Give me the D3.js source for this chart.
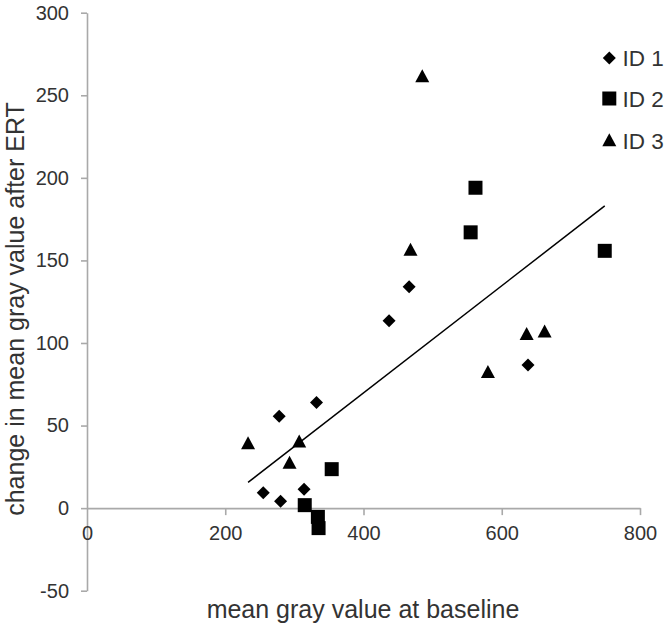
<!DOCTYPE html>
<html>
<head>
<meta charset="utf-8">
<script src="https://cdn.jsdelivr.net/npm/d3@7"></script>
<style>
  html, body { margin: 0; padding: 0; background: #fff; }
  svg { display: block; font-family: "Liberation Sans", Arial, sans-serif; }
</style>
</head>
<body>
<svg id="chart" width="671" height="626"></svg>
<script>
// ---- data ----
const id1X = [255, 280, 278, 332, 314, 437, 466, 638];
const id1Y = [9.3, 4.2, 55.7, 64, 11.5, 113.4, 134, 86.6];

const id2X = [315, 334, 335, 354, 555, 562, 749];
const id2Y = [1.8, -5.3, -12.1, 23.6, 167, 194, 155.8];

const id3X = [233, 307, 293, 485, 468, 580, 636, 662];
const id3Y = [38.8, 39.8, 27, 261, 156, 82, 105, 106.4];

const trendX = [233, 749];
const trendY = [15.6, 183];

const xTicks = [0, 200, 400, 600, 800];
const yTicks = [-50, 0, 50, 100, 150, 200, 250, 300];
const seriesNames = ["ID 1", "ID 2", "ID 3"];
const xTitle = "mean gray value at baseline";
const yTitle = "change in mean gray value after ERT";

// ---- layout ----
const svg = d3.select("#chart");
const x = d3.scaleLinear().domain([0, 800]).range([87, 640]);
const y = d3.scaleLinear().domain([-50, 300]).range([590.7, 12.7]);

const axisColor = "#a9a9a9";
const textColor = "#333333";
const fmt = d => String(d);

// Y axis
const yAxis = svg.append("g")
  .attr("transform", `translate(${x(0)},0)`)
  .call(d3.axisLeft(y).tickValues(yTicks).tickFormat(fmt).tickSize(6).tickPadding(12).tickSizeOuter(0));
yAxis.select(".domain").attr("stroke", axisColor).attr("stroke-width", 1.6);
yAxis.selectAll(".tick line").attr("stroke", axisColor).attr("stroke-width", 1.6);
yAxis.selectAll(".tick text").attr("fill", textColor).attr("font-size", 20)
  .attr("font-family", "Liberation Sans, Arial, sans-serif");

// X axis at y = 0
const xAxis = svg.append("g")
  .attr("transform", `translate(0,${y(0)})`)
  .call(d3.axisBottom(x).tickValues(xTicks).tickFormat(fmt).tickSize(7).tickPadding(11).tickSizeOuter(0));
xAxis.select(".domain").attr("stroke", axisColor).attr("stroke-width", 1.6);
xAxis.selectAll(".tick line").attr("stroke", axisColor).attr("stroke-width", 1.6)
  .attr("display", d => d === 0 ? "none" : null);
xAxis.selectAll(".tick text").attr("fill", textColor).attr("font-size", 20)
  .attr("font-family", "Liberation Sans, Arial, sans-serif");

// Trend line
svg.append("line")
  .attr("x1", x(trendX[0])).attr("y1", y(trendY[0]))
  .attr("x2", x(trendX[1])).attr("y2", y(trendY[1]))
  .attr("stroke", "#000").attr("stroke-width", 1.5);

// Marker shapes
function diamond(s) { return `M0,${-s/2}L${s/2},0L0,${s/2}L${-s/2},0Z`; }
function square(s) { return `M${-s/2},${-s/2}h${s}v${s}h${-s}Z`; }
function triangle(w, h) { return `M0,${-h*0.6}L${w/2},${h*0.4}L${-w/2},${h*0.4}Z`; }

const shapes = [diamond(13), square(14), triangle(14, 13)];
const series = [
  { xs: id1X, ys: id1Y },
  { xs: id2X, ys: id2Y },
  { xs: id3X, ys: id3Y }
];

series.forEach((s, i) => {
  svg.append("g").selectAll("path")
    .data(s.xs.map((v, j) => [v, s.ys[j]]))
    .join("path")
    .attr("d", shapes[i])
    .attr("transform", d => `translate(${x(d[0])},${y(d[1])})`)
    .attr("fill", "#000");
});

// Legend
const legendY = [58, 98.5, 141];
const legend = svg.append("g");
seriesNames.forEach((name, i) => {
  legend.append("path")
    .attr("d", shapes[i])
    .attr("transform", `translate(609.3,${legendY[i]})`)
    .attr("fill", "#000");
  legend.append("text")
    .attr("x", 622.5)
    .attr("y", legendY[i])
    .attr("dy", "0.36em")
    .attr("font-size", 22.5)
    .attr("fill", textColor)
    .text(name);
});

// Axis titles
svg.append("text")
  .attr("x", 363)
  .attr("y", 618)
  .attr("text-anchor", "middle")
  .attr("font-size", 25)
  .attr("fill", textColor)
  .text(xTitle);

svg.append("text")
  .attr("transform", `translate(24,309) rotate(-90)`)
  .attr("text-anchor", "middle")
  .attr("font-size", 25)
  .attr("fill", textColor)
  .text(yTitle);
</script>
</body>
</html>
